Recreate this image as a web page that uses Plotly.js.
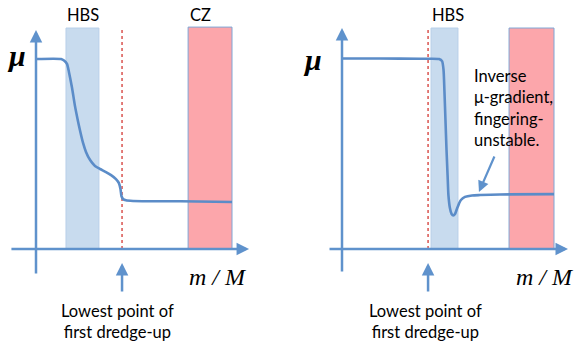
<!DOCTYPE html>
<html>
<head>
<meta charset="utf-8">
<script src="https://cdn.plot.ly/plotly-3.0.1.min.js"></script>
<style>html,body{margin:0;padding:0;background:#fff;}#chart{width:582px;height:352px;}</style>
</head>
<body>
<div id="chart"></div>
<script>
// Left panel: mu profile vs m/M (after first dredge-up)
const leftX = [0, 0.128, 0.143, 0.158, 0.168, 0.184, 0.199, 0.214, 0.224, 0.240, 0.255, 0.276, 0.301, 0.327, 0.357, 0.383, 0.408, 0.423, 0.431, 0.436, 0.444, 0.459, 0.495, 0.735, 1.0];
const leftY = [1.0, 1.0, 0.992, 0.974, 0.932, 0.847, 0.752, 0.674, 0.626, 0.558, 0.511, 0.468, 0.437, 0.421, 0.405, 0.389, 0.368, 0.347, 0.316, 0.279, 0.263, 0.256, 0.253, 0.251, 0.247];
// Right panel: mu profile with inverse gradient
const rightX = [0, 0.179, 0.368, 0.458, 0.472, 0.479, 0.483, 0.488, 0.493, 0.498, 0.502, 0.509, 0.517, 0.525, 0.533, 0.542, 0.552, 0.561, 0.580, 0.613, 0.651, 0.745, 1.0];
const rightY = [1.003, 1.003, 1.001, 1.0, 0.989, 0.942, 0.837, 0.679, 0.521, 0.389, 0.284, 0.216, 0.184, 0.176, 0.184, 0.211, 0.239, 0.258, 0.274, 0.282, 0.284, 0.287, 0.289];

// zones [start, end] in m/M
const leftHBS = [0.153, 0.321];
const leftCZ = [0.776, 1.0];
const leftFDU = 0.439;
const rightHBS = [0.420, 0.547];
const rightCZ = [0.788, 1.0];
const rightFDU = 0.406;

const labels = {
  hbs: 'HBS', cz: 'CZ', mu: 'μ', mM: 'm / M',
  fdu: 'Lowest point of<br>first dredge-up',
  inverse: 'Inverse<br>μ-gradient,<br>fingering-<br>unstable.'
};

const blue = '#5b8cc8';
const axisBlue = '#5f92cc';
const hbsFill = '#c8dbee';
const czFill = '#fca6ab';
const textFont = {family: 'Lato, "Open Sans", sans-serif', size: 16.5, color: '#000'};
const mathFont = {family: '"Liberation Serif", "DejaVu Serif", serif', size: 30, color: '#000', style: 'italic', weight: 'bold'};
const mMFont = {family: '"Liberation Serif", "DejaVu Serif", serif', size: 24, color: '#000', style: 'italic'};

const traces = [
  {x: leftX, y: leftY, xaxis: 'x', yaxis: 'y', mode: 'lines', line: {color: blue, width: 2.6, shape: 'spline', smoothing: 0.6}, hoverinfo: 'skip'},
  {x: rightX, y: rightY, xaxis: 'x2', yaxis: 'y', mode: 'lines', line: {color: blue, width: 2.6, shape: 'spline', smoothing: 0.6}, hoverinfo: 'skip'}
];

const bandTop = 1.163;
function band(xr, r, fill, top, border) {
  return {type: 'rect', xref: xr, yref: 'y', x0: r[0], x1: r[1], y0: 0, y1: top, fillcolor: fill, line: {color: border, width: 1}, layer: 'below'};
}
function fdu(xr, x) {
  return {type: 'line', xref: xr, yref: 'y', x0: x, x1: x, y0: 0, y1: bandTop, line: {color: '#d9534f', width: 1.5, dash: 'dot'}, layer: 'below'};
}
const shapes = [
  band('x', leftHBS, hbsFill, bandTop, '#b8cfe9'),
  band('x', leftCZ, czFill, 1.168, '#7fa6d6'),
  fdu('x', leftFDU),
  band('x2', rightHBS, hbsFill, bandTop, '#b8cfe9'),
  band('x2', rightCZ, czFill, bandTop, '#7fa6d6'),
  fdu('x2', rightFDU)
];

function arrow(xr, x, y, ax, ay, w) {
  return {xref: xr, yref: 'y', axref: xr, ayref: 'y', x: x, y: y, ax: ax, ay: ay, text: '', showarrow: true, arrowhead: 2, arrowsize: 1, arrowwidth: w || 2.5, arrowcolor: axisBlue, standoff: 0, startstandoff: 0};
}
function txt(xr, x, y, text, font, opts) {
  return Object.assign({xref: xr, yref: 'y', x: x, y: y, text: text, showarrow: false, font: font}, opts || {});
}

const annotations = [
  // axes
  arrow('x', 0, 1.153, 0, -0.137),
  arrow('x', 1.087, 0, -0.133, 0),
  arrow('x2', 0, 1.163, 0, -0.126),
  arrow('x2', 1.066, 0, -0.066, 0),
  // dredge-up arrows
  arrow('x', leftFDU, -0.074, leftFDU, -0.232),
  arrow('x2', rightFDU, -0.074, rightFDU, -0.232),
  // inverse gradient arrow
  arrow('x2', 0.646, 0.30, 0.722, 0.495, 2.2),
  // labels
  txt('x', 0.240, 1.232, labels.hbs, textFont),
  txt('x', 0.837, 1.232, labels.cz, textFont),
  txt('x2', 0.5, 1.232, labels.hbs, textFont),
  txt('x', -0.097, 1.02, labels.mu, mathFont),
  txt('x2', -0.137, 1.0, labels.mu, mathFont),
  txt('x', 0.929, -0.147, labels.mM, mMFont),
  txt('x2', 0.958, -0.147, labels.mM, mMFont),
  txt('x', 0.418, -0.379, labels.fdu, textFont),
  txt('x2', 0.396, -0.379, labels.fdu, textFont),
  txt('x2', 0.615, 0.742, labels.inverse, textFont, {xanchor: 'left', align: 'left'})
];

// pixel mapping of panels
const W = 582, H = 352;
const lo = 36, lscale = 196, ro = 342, rscale = 212, yo = 249, yscale = 190;
const layout = {
  width: W, height: H,
  margin: {l: 0, r: 0, t: 0, b: 0, pad: 0},
  paper_bgcolor: '#fff', plot_bgcolor: '#fff',
  showlegend: false,
  xaxis: {domain: [0, 0.5], range: [(0 - lo) / lscale, (W / 2 - lo) / lscale], visible: false, fixedrange: true},
  xaxis2: {domain: [0.5, 1], range: [(W / 2 - ro) / rscale, (W - ro) / rscale], visible: false, fixedrange: true},
  yaxis: {domain: [0, 1], range: [(yo - H) / yscale, yo / yscale], visible: false, fixedrange: true},
  shapes: shapes,
  annotations: annotations
};

Plotly.newPlot('chart', traces, layout, {staticPlot: true, displayModeBar: false});
</script>
</body>
</html>
